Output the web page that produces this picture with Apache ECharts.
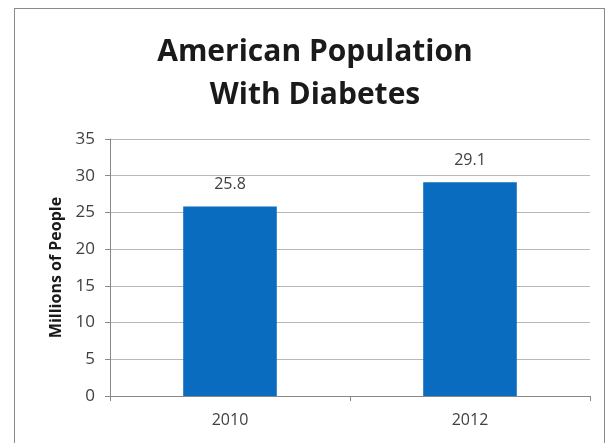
<!DOCTYPE html>
<html>
<head>
<meta charset="utf-8">
<script src="https://cdn.jsdelivr.net/npm/echarts@6/dist/echarts.min.js"></script>
<style>
html,body{margin:0;padding:0;background:#fff;}
#frame{position:absolute;left:14px;top:8px;width:591px;height:450px;border:1.5px solid #8a8a8a;box-sizing:border-box;}
#chart{position:absolute;left:0;top:0;width:610px;height:443px;}
</style>
</head>
<body>
<div id="frame"></div>
<div id="chart"></div>
<script>
var categories = ['2010', '2012'];
var values = [25.8, 29.1];
var yTicks = {min: 0, max: 35, interval: 5};

var chart = echarts.init(document.getElementById('chart'));
chart.setOption({
  animation: false,
  title: {
    text: 'American Population\nWith Diabetes',
    left: 310, top: 26, textAlign: 'center',
    textStyle: {fontFamily: 'Open Sans', fontWeight: 'bold', fontSize: 30, color: '#1a1a1a', lineHeight: 43}
  },
  grid: {left: 110, right: 20, top: 139, bottom: 47},
  xAxis: {
    type: 'category', data: categories,
    axisLine: {lineStyle: {color: '#888'}},
    axisTick: {show: true, alignWithLabel: false, length: 5, lineStyle: {color: '#888'}},
    axisLabel: {color: '#404040', fontSize: 16, fontFamily: 'Open Sans', margin: 16}
  },
  yAxis: {
    type: 'value', min: yTicks.min, max: yTicks.max, interval: yTicks.interval,
    name: 'Millions of People', nameLocation: 'middle', nameGap: 44,
    nameTextStyle: {fontFamily: 'Open Sans', fontWeight: 'bold', fontSize: 16, color: '#1a1a1a'},
    axisLine: {show: true, lineStyle: {color: '#888'}},
    axisTick: {show: true, length: 5, lineStyle: {color: '#888'}},
    axisLabel: {color: '#404040', fontSize: 17, fontFamily: 'Open Sans', margin: 15},
    splitLine: {lineStyle: {color: '#b8b8b8'}}
  },
  series: [{
    type: 'bar', data: values, barWidth: '39%',
    itemStyle: {color: '#0a6cbf'},
    label: {show: true, position: 'top', distance: 14, color: '#404040', fontSize: 16, fontFamily: 'Open Sans'}
  }]
});
</script>
</body>
</html>
